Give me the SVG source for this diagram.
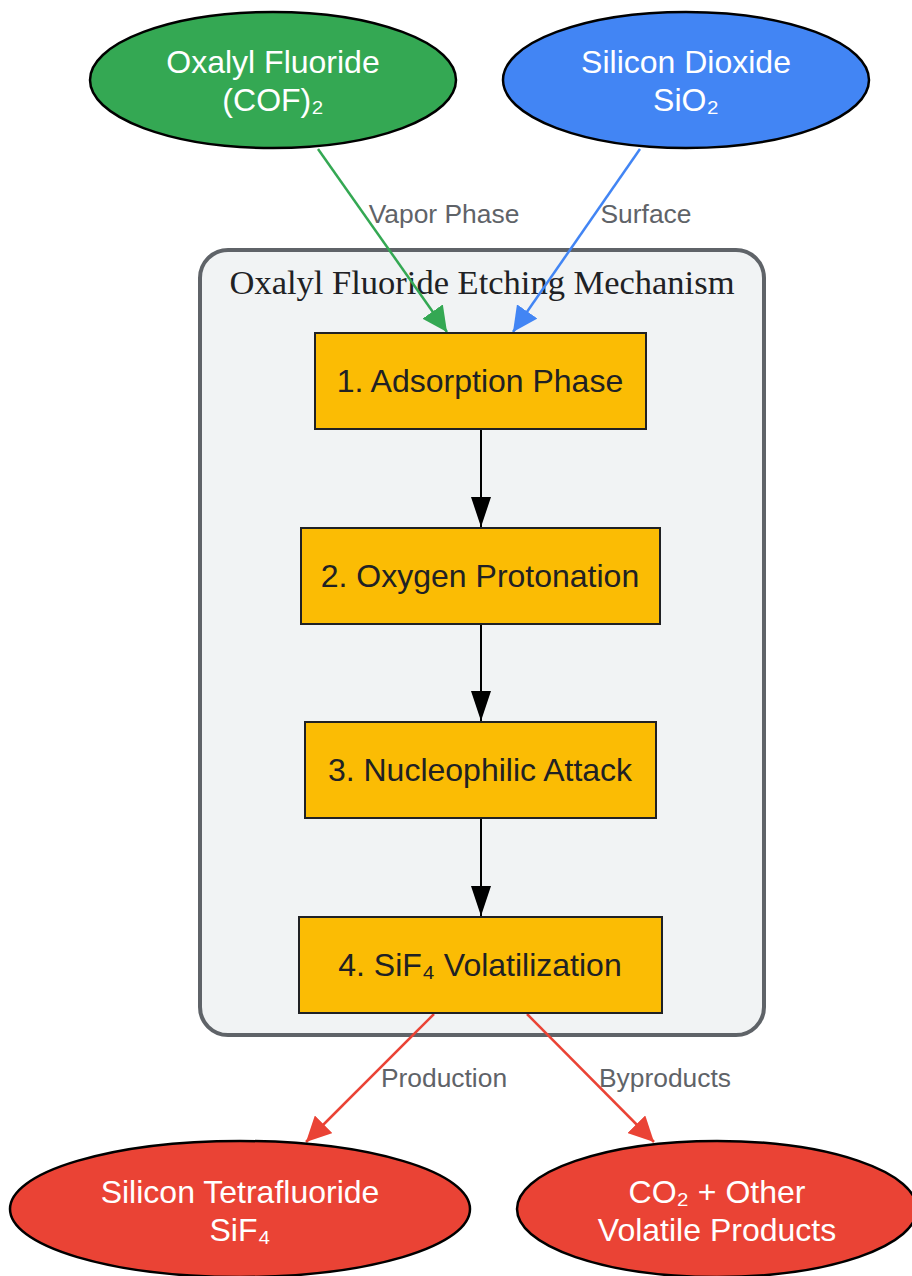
<svg xmlns="http://www.w3.org/2000/svg" width="912" height="1276" viewBox="0 0 912 1276">
<style>
.t{font-family:"Liberation Sans",Arial,sans-serif;text-anchor:middle}
.w{fill:#ffffff;font-size:32px}
.b{fill:#202124;font-size:32px}
.lab{fill:#5f6368;font-size:26.4px;font-family:"Liberation Sans",Arial,sans-serif;text-anchor:middle}
.box{fill:#fbbc04;stroke:#202124;stroke-width:2}
.ell{stroke:#000;stroke-width:2.5}
</style>
<defs>
<marker id="ak" viewBox="0 0 30 20" refX="30" refY="10" markerWidth="30" markerHeight="20" markerUnits="userSpaceOnUse" orient="auto"><path d="M0,0L30,10L0,20z" fill="#000"/></marker>
<marker id="ag" viewBox="0 0 10 10" refX="10" refY="5" markerWidth="10" markerHeight="10" orient="auto"><path d="M0,0L10,5L0,10z" fill="#34a853"/></marker>
<marker id="ab" viewBox="0 0 10 10" refX="10" refY="5" markerWidth="10" markerHeight="10" orient="auto"><path d="M0,0L10,5L0,10z" fill="#4285f4"/></marker>
<marker id="ar" viewBox="0 0 10 10" refX="10" refY="5" markerWidth="10" markerHeight="10" orient="auto"><path d="M0,0L10,5L0,10z" fill="#ea4335"/></marker>
</defs>
<g id="cluster">
<rect x="200" y="250" width="564" height="785" rx="28" fill="#f1f3f4" stroke="#5f6368" stroke-width="4"/>
<text x="482" y="294" font-family="Liberation Serif,Times New Roman,serif" font-size="34.5" fill="#202124" text-anchor="middle">Oxalyl Fluoride Etching Mechanism</text>
</g>
<g id="connectors" fill="none">
<path d="M318,149L447,332" stroke="#34a853" stroke-width="2.5" marker-end="url(#ag)"/>
<path d="M640,149L513,332" stroke="#4285f4" stroke-width="2.5" marker-end="url(#ab)"/>
<path d="M481,430V527" stroke="#000" stroke-width="2" marker-end="url(#ak)"/>
<path d="M481,624V721" stroke="#000" stroke-width="2" marker-end="url(#ak)"/>
<path d="M481,819V916" stroke="#000" stroke-width="2" marker-end="url(#ak)"/>
<path d="M434,1014L306,1142" stroke="#ea4335" stroke-width="2.5" marker-end="url(#ar)"/>
<path d="M527,1014L654,1142" stroke="#ea4335" stroke-width="2.5" marker-end="url(#ar)"/>
<text class="lab" x="444" y="223">Vapor Phase</text>
<text class="lab" x="646" y="223">Surface</text>
<text class="lab" x="444" y="1087">Production</text>
<text class="lab" x="665" y="1087">Byproducts</text>
</g>
<g id="oxalyl">
<ellipse class="ell" cx="273" cy="80" rx="183" ry="68" fill="#34a853"/>
<text class="t w" x="273" y="73">Oxalyl Fluoride</text>
<text class="t w" x="273" y="111">(COF)₂</text>
</g>
<g id="sio2">
<ellipse class="ell" cx="686" cy="80" rx="183" ry="68" fill="#4285f4"/>
<text class="t w" x="686" y="73">Silicon Dioxide</text>
<text class="t w" x="686" y="111">SiO₂</text>
</g>
<g id="step1">
<rect class="box" x="315" y="333" width="331" height="96"/>
<text class="t b" x="480" y="392">1. Adsorption Phase</text>
</g>
<g id="step2">
<rect class="box" x="301" y="528" width="359" height="96"/>
<text class="t b" x="480" y="587">2. Oxygen Protonation</text>
</g>
<g id="step3">
<rect class="box" x="305" y="722" width="351" height="96"/>
<text class="t b" x="480" y="781">3. Nucleophilic Attack</text>
</g>
<g id="step4">
<rect class="box" x="299" y="917" width="363" height="96"/>
<text class="t b" x="480" y="976">4. SiF₄ Volatilization</text>
</g>
<g id="sif4">
<ellipse class="ell" cx="240" cy="1209" rx="230" ry="68" fill="#ea4335"/>
<text class="t w" x="240" y="1203">Silicon Tetrafluoride</text>
<text class="t w" x="240" y="1241">SiF₄</text>
</g>
<g id="byproducts">
<ellipse class="ell" cx="717" cy="1209" rx="200" ry="68" fill="#ea4335"/>
<text class="t w" x="717" y="1203">CO₂ + Other</text>
<text class="t w" x="717" y="1241">Volatile Products</text>
</g>
</svg>
